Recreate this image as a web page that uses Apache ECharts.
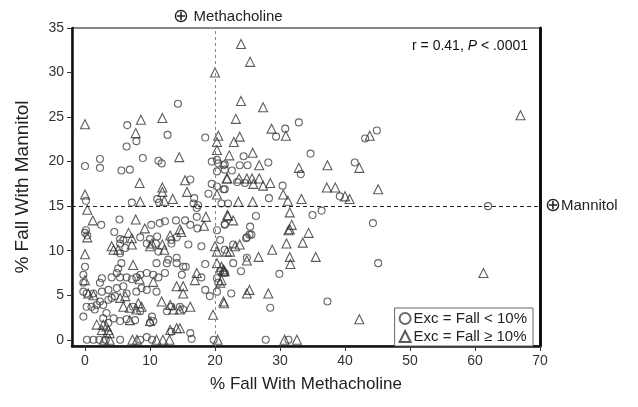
<!DOCTYPE html>
<html>
<head>
<meta charset="utf-8">
<script src="https://cdn.jsdelivr.net/npm/echarts@6/dist/echarts.min.js"></script>
<style>
html,body{margin:0;padding:0;background:#fff;}
#main{width:638px;height:407px;}
</style>
</head>
<body>
<div id="main"></div>
<script>
// tick labels
var xTicks = [0, 10, 20, 30, 40, 50, 60, 70];
var yTicks = [0, 5, 10, 15, 20, 25, 30, 35];
var seriesNames = ['Exc = Fall < 10%', 'Exc = Fall \u2265 10%'];
var refLines = {methacholine: 20, mannitol: 15};

// Exc = Fall < 10%  [methacholine, mannitol]
var lowExc = [
    [14.3,26.5],[6.5,24.1],[12.7,23.0],[18.5,22.7],[32.9,24.4],[30.8,23.7],[29.4,22.8],[43.1,22.6],[44.9,23.5],[62,15.0],
    [44.3,13.1],[45.1,8.6],[29.9,7.4],[22.5,5.2],[28.5,3.6],[37.3,4.3],[27.8,0],[31.3,0],[24,7.7],
    [34.7,20.9],[24.4,20.6],[28.2,19.9],[21.5,19.7],[23.8,19.6],[25.0,19.6],[41.5,19.9],[33.2,18.6],[22.6,19.0],[23.4,17.7],
    [24.6,17.6],[21.5,16.9],[30.4,17.3],[39.2,16.1],[28.3,15.9],[21,15.3],[22,15.3],[36.4,14.5],[35,14.0],[26.3,13.9],
    [21.5,13.0],[25.4,12.7],[24.9,11.5],[25.6,11.8],
    [7.9,22.3],[6.4,21.7],[2.3,20.3],[0,19.5],[2.3,19.3],[8.9,20.4],[11.3,20.1],[11.8,19.8],[5.6,19.0],[6.9,19.1],
    [19.5,20.0],[20.3,20.2],[20.5,19.8],[21.3,19.6],[21.5,19.1],[20.3,18.9],[16.2,18.0],[19.5,17.5],[20.3,17.2],[21.3,16.9],
    [19.0,16.4],[0.15,15.6],[7.2,15.4],[11.1,15.8],[11.4,15.4],[16.8,15.9],[16.7,15.3],[17.4,15.1],[17.2,14.8],[17.2,13.8],
    [2.5,12.9],[5.3,13.5],[11.5,13.1],[12.3,13.3],[14,13.4],[15.4,13.4],[16.2,12.9],[17.3,12.5],[10.2,12.9],[4.5,12.1],
    [0.15,12.3],[0.35,11.7],[20.3,12.3],[21.5,12.9],[5.4,11.3],[8.5,11.5],[10,11.3],[11.1,11.6],[13.3,11.2],
    [0,12.0],[5.4,10.8],[5.9,11.2],[6.2,10.3],[5.4,9.7],[9.5,10.8],[10.9,10.8],[11.3,9.9],[13.3,10.8],[14.1,11.5],
    [15.9,10.7],[17.9,10.5],[5.6,8.6],[5.1,8.0],[4.9,7.5],[11,8.6],[12.6,8.6],[12.8,9.0],[14.1,9.2],[14.1,8.6],
    [15.5,8.2],[18.5,8.5],[0,8.2],[-0.25,7.3],[-0.25,6.4],[2.6,6.9],[2.3,6.4],[4.1,7.0],[5.4,7.0],[6.4,7.0],
    [7.2,6.8],[7.9,7.0],[8.5,7.3],[9.5,7.5],[10.5,7.3],[11.3,7.0],[12.3,7.5],[14.9,7.3],[15.1,8.2],[17.9,7.0],
    [18.5,5.6],[20.3,6.9],[20.5,6.4],[20.3,5.4],[-0.25,5.4],[0.25,5.2],[1.3,5.2],[2.6,5.4],[3.6,5.6],[4.9,5.8],
    [5.9,6.0],[6.4,5.2],[7.9,5.4],[8.7,5.8],[9.5,5.6],[11,5.4],[19.2,4.9],[2.3,4.3],[1.8,3.9],[2.8,3.9],
    [3.6,4.5],[4.1,4.7],[4.6,4.9],[0.25,3.7],[1.0,3.7],[1.5,3.4],[7.4,3.7],[8.5,3.2],[12.6,3.2],[13.3,3.7],
    [14.6,3.7],[15.1,3.4],[-0.25,2.6],[3.3,3.0],[2.8,2.4],[4.4,2.4],[3.6,1.9],[5.4,2.1],[6.4,2.3],[7.7,2.2],
    [10.3,2.6],[10.5,2.1],[10,1.9],[13.3,0.9],[16.2,0.75],[16.4,0.1],
    [0.3,0],[1.3,0],[2.2,0],[3.2,0],[5.4,0],[8.5,0],[9.5,0.3],[10.3,0],[19.8,0],
    [20.8,11.2],[21.5,10.1],[22.8,10.7],[24.8,11.4],[25.3,11.8],[24.9,9.2],[22.8,8.6],[20.8,7.7],[21.5,7.5]
];

// Exc = Fall >= 10%
var highExc = [
    [20,30],[0,24.2],[8.6,24.7],[11.9,24.9],[7.8,23.2],[20.5,22.9],[24,33.2],[25.4,31.2],[24,26.8],[27.4,26.1],
    [23.2,24.8],[28.7,23.7],[30.9,22.9],[23.8,22.8],[43.8,22.9],[67,25.2],[45.1,16.9],[61.3,7.5],
    [31.3,12.3],[34.4,12.0],[31.0,10.8],[33.5,10.9],[28.8,10.1],[26.7,9.3],[31.5,9.3],[31.6,8.5],[35.5,9.3],[25.3,5.6],
    [24.9,5.2],[28.2,5.2],[42.2,2.3],[30.7,0],[32.6,0],[21.4,4.1],[24.9,8.9],
    [22.9,22.2],[25.8,21.0],[22.2,20.7],[26.8,19.6],[42.2,19.3],[37.3,19.6],[32.9,19.3],[21.9,18.1],[23.7,18.1],[24.9,18.1],
    [25.7,18.1],[26.8,18.1],[28.5,17.6],[27.4,17.3],[25.9,17.5],[30.5,16.3],[37.2,17.1],[38.5,17.1],[40,16.1],[40.7,15.8],
    [31.2,15.6],[33.3,15.8],[23.6,15.5],[25.8,15.5],[31.5,14.3],[21.9,14.0],[22.8,13.4],[31.8,12.9],[31.5,12.4],
    [20.3,22.2],[20.3,21.3],[14.5,20.5],[21.8,18.1],[8.4,17.6],[15.4,17.9],[11.9,17.1],[11.9,16.6],[15.7,16.6],[20.3,16.3],
    [0,16.3],[0.35,14.6],[8.5,15.5],[12.2,15.6],[13.5,15.8],[18.6,13.8],[1.2,13.4],[7.8,13.5],[18.3,12.8],[14.6,12.4],
    [9.2,12.5],[6.7,12.0],[22,13.9],
    [0.35,11.5],[4.1,10.5],[4.4,10.1],[5.1,10.1],[7.2,10.7],[7.2,11.4],[10,10.5],[10.3,10.8],[11.9,10.7],[12.2,10.1],
    [13.1,11.7],[14.8,12.1],[20,10.5],[20.3,9.9],[21.8,9.9],[0,9.6],[7.4,8.4],[20.3,8.6],[21.3,7.9],[0,6.7],
    [8.4,6.8],[10.5,6.5],[16.9,6.7],[17.2,7.5],[14.1,6.0],[15.1,6.0],[15.1,5.2],[21,6.7],[21.5,7.7],[0.5,5.2],
    [1.3,5.0],[5.4,4.7],[6.2,4.9],[21.3,4.3],[5.9,3.7],[6.9,3.6],[8.2,4.1],[7.9,3.4],[8.7,3.7],[11.8,4.3],
    [13.1,3.9],[14.6,3.4],[16.2,3.7],[13.6,3.4],[19.7,2.8],[1.8,1.7],[2.8,1.7],[3.3,1.5],[2.6,1.1],[3.6,1.1],
    [3.8,0.75],[6.9,2.2],[10,2.1],[13.1,1.1],[14.1,1.3],[14.6,1.3],
    [2.9,0],[3.8,0],[7.3,0],[8.0,0],[11,0],[12,0],[13,0],[20.4,0],
    [22.3,9.9],[23.1,10.5],[23.8,10.7],[21,8.2],[21.3,7.7],[20.8,6.4]
];

var font = 'Liberation Sans';
var myChart = echarts.init(document.getElementById('main'));
var option = {
    animation: false,
    textStyle: {fontFamily: font},
    grid: {
        left: 72,
        top: 28,
        width: 468,
        height: 318,
        show: true,
        borderColor: '#111',
        borderWidth: 1
    },
    legend: {
        orient: 'vertical',
        right: 105,
        bottom: 61,
        itemWidth: 11,
        itemHeight: 11,
        itemGap: 3,
        padding: [3, 6, 2, 4],
        borderColor: '#666',
        borderWidth: 1,
        backgroundColor: '#fff',
        textStyle: {fontSize: 15, color: '#222', fontFamily: font, padding: [0, 0, 0, -2]},
        data: seriesNames
    },
    xAxis: [{
        type: 'value',
        min: -2,
        max: 70,
        name: '% Fall With Methacholine',
        nameLocation: 'middle',
        nameGap: 30,
        nameTextStyle: {fontSize: 17, color: '#222'},
        axisLine: {show: true, onZero: false, lineStyle: {color: '#111', width: 2.5}},
        axisTick: {show: true, length: 5, customValues: xTicks, lineStyle: {color: '#333'}},
        axisLabel: {customValues: xTicks, fontSize: 14, color: '#333', margin: 8},
        splitLine: {show: false}
    }],
    yAxis: [{
        type: 'value',
        min: -0.7,
        max: 35,
        name: '% Fall With Mannitol',
        nameLocation: 'middle',
        nameGap: 40,
        nameRotate: 90,
        nameTextStyle: {fontSize: 19, color: '#222'},
        axisLine: {show: true, onZero: false, lineStyle: {color: '#111', width: 2.5}},
        axisTick: {show: true, length: 5, customValues: yTicks, lineStyle: {color: '#333'}},
        axisLabel: {customValues: yTicks, fontSize: 14, color: '#333', margin: 8},
        splitLine: {show: false}
    }, {
        type: 'value',
        position: 'right',
        min: -0.7,
        max: 35,
        axisLine: {show: true, onZero: false, lineStyle: {color: '#111', width: 3}},
        axisTick: {show: false},
        axisLabel: {show: false},
        splitLine: {show: false}
    }],
    series: [{
        name: seriesNames[0],
        type: 'scatter',
        symbol: 'circle',
        symbolSize: 7,
        itemStyle: {color: 'rgba(255,255,255,0)', borderColor: '#444', borderWidth: 1.1},
        data: lowExc,
        markLine: {
            silent: true,
            symbol: 'none',
            animation: false,
            data: [{
                xAxis: refLines.methacholine,
                lineStyle: {color: '#888', type: [3, 3], width: 1},
                label: {
                    show: true, position: 'end', distance: 2, padding: [0, 0, 0, 26],
                    formatter: '{c|\u2295}{t| Methacholine}',
                    rich: {c: {fontSize: 19, color: '#222'}, t: {fontSize: 15, color: '#222'}}
                }
            }, {
                yAxis: refLines.mannitol,
                lineStyle: {color: '#222', type: [4, 3], width: 1},
                label: {
                    show: true, position: 'end', distance: 5,
                    formatter: '{c|\u2295}{t|Mannitol}',
                    rich: {c: {fontSize: 19, color: '#222'}, t: {fontSize: 15, color: '#222'}}
                }
            }]
        }
    }, {
        name: seriesNames[1],
        type: 'scatter',
        symbol: 'triangle',
        symbolSize: 9,
        itemStyle: {color: 'rgba(255,255,255,0)', borderColor: '#333', borderWidth: 1.1},
        data: highExc
    }],
    graphic: [{
        type: 'text',
        right: 110,
        top: 39,
        style: {
            text: '{n|r = 0.41, }{i|P}{n| < .0001}',
            rich: {
                n: {fontSize: 14, fontFamily: font, fill: '#111'},
                i: {fontSize: 14, fontFamily: font, fontStyle: 'italic', fill: '#111'}
            }
        }
    }]
};
myChart.setOption(option);
</script>
</body>
</html>
